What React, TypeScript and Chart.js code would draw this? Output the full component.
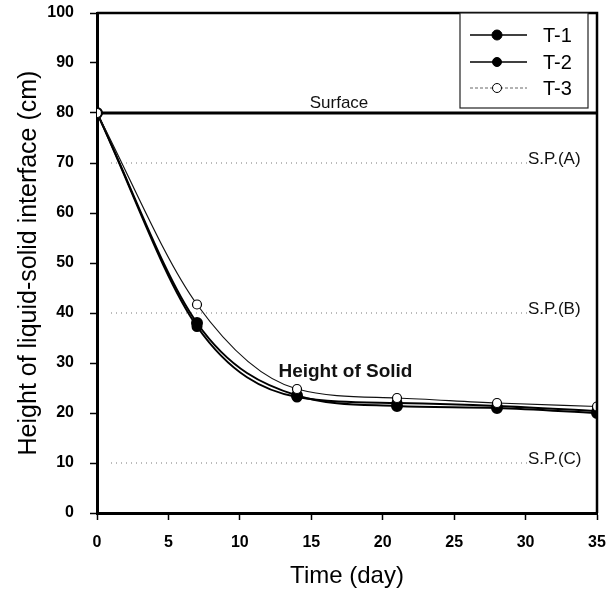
import React, { useEffect, useRef } from "react";
import { Chart, registerables } from "chart.js";

Chart.register(...registerables);

const days = [0, 7, 14, 21, 28, 35];
const t1 = [80, 38, 23.5, 21.4, 21, 20];
const t2 = [80, 37.3, 23.2, 22, 21.4, 20.4];
const t3 = [80, 41.7, 24.8, 23, 22, 21.3];
const seriesNames = ["T-1", "T-2", "T-3"];

const refLevels = [80, 70, 40, 10];
const refLabels = ["Surface", "S.P.(A)", "S.P.(B)", "S.P.(C)"];

const noteText = "Height of Solid";
const noteX = 12.7;
const noteY = 28.3;

const FONT = "'Liberation Sans', Arial, Helvetica, sans-serif";

const overlay = {
  id: "overlay",
  beforeDatasetsDraw(chart: any) {
    const { ctx, chartArea } = chart;
    const ys = chart.scales.y;
    ctx.save();
    refLevels.forEach((lv, i) => {
      const py = ys.getPixelForValue(lv);
      ctx.beginPath();
      if (i === 0) {
        ctx.strokeStyle = "#000";
        ctx.lineWidth = 3;
        ctx.setLineDash([]);
        ctx.moveTo(chartArea.left, py);
        ctx.lineTo(chartArea.right, py);
      } else {
        ctx.strokeStyle = "#777";
        ctx.lineWidth = 1;
        ctx.setLineDash([1, 4]);
        ctx.moveTo(chartArea.left + 14, py);
        ctx.lineTo(chartArea.right - 70, py);
      }
      ctx.stroke();
    });
    ctx.restore();
  },
  afterDatasetsDraw(chart: any) {
    const { ctx, chartArea } = chart;
    const ys = chart.scales.y;
    const xs = chart.scales.x;
    ctx.save();
    // frame top/right
    ctx.strokeStyle = "#000";
    ctx.lineWidth = 2.5;
    ctx.setLineDash([]);
    ctx.beginPath();
    ctx.moveTo(chartArea.left, chartArea.top);
    ctx.lineTo(chartArea.right, chartArea.top);
    ctx.lineTo(chartArea.right, chartArea.bottom);
    ctx.stroke();

    // ref labels
    ctx.fillStyle = "#111";
    ctx.font = `17px ${FONT}`;
    ctx.textBaseline = "middle";
    refLevels.forEach((lv, i) => {
      const py = ys.getPixelForValue(lv);
      if (i === 0) {
        ctx.textAlign = "center";
        ctx.fillText(refLabels[i], (chartArea.left + chartArea.right) / 2 - 8, py - 10);
      } else {
        ctx.textAlign = "left";
        ctx.fillText(refLabels[i], chartArea.right - 69, py - 4);
      }
    });

    // note
    ctx.font = `bold 19px ${FONT}`;
    ctx.textAlign = "left";
    ctx.fillText(noteText, xs.getPixelForValue(noteX), ys.getPixelForValue(noteY));

    // legend
    const bx = chartArea.right - 137;
    const by = chartArea.top;
    const bw = 128;
    const bh = 95;
    ctx.fillStyle = "#fff";
    ctx.fillRect(bx, by, bw, bh);
    ctx.strokeStyle = "#222";
    ctx.lineWidth = 1.2;
    ctx.strokeRect(bx, by, bw, bh);
    const rows = [by + 22, by + 49, by + 75];
    chart.data.datasets.forEach((ds: any, i: number) => {
      const y = rows[i];
      ctx.beginPath();
      ctx.strokeStyle = i === 2 ? "#666" : "#000";
      ctx.lineWidth = i === 2 ? 1 : 1.5;
      ctx.setLineDash(i === 2 ? [3, 2] : []);
      ctx.moveTo(bx + 10, y);
      ctx.lineTo(bx + 67, y);
      ctx.stroke();
      ctx.setLineDash([]);
      ctx.beginPath();
      ctx.arc(bx + 37, y, ds.pointRadius, 0, Math.PI * 2);
      ctx.fillStyle = ds.pointBackgroundColor;
      ctx.fill();
      ctx.lineWidth = 1;
      ctx.strokeStyle = "#000";
      ctx.stroke();
      ctx.fillStyle = "#000";
      ctx.font = `20px ${FONT}`;
      ctx.textAlign = "left";
      ctx.textBaseline = "middle";
      ctx.fillText(seriesNames[i], bx + 83, y + 1);
    });
    ctx.restore();
  },
};

export default function App() {
  const ref = useRef<HTMLCanvasElement>(null);
  useEffect(() => {
    document.body.style.margin = "0";
    const mk = (vals: number[]) => days.map((d, i) => ({ x: d, y: vals[i] }));
    const chart = new Chart(ref.current!, {
      type: "line",
      data: {
        datasets: [
          {
            label: seriesNames[0],
            data: mk(t1),
            borderColor: "#000",
            borderWidth: 2,
            pointRadius: 5,
            pointBackgroundColor: "#000",
            pointBorderColor: "#000",
            cubicInterpolationMode: "monotone",
            order: 2,
          },
          {
            label: seriesNames[1],
            data: mk(t2),
            borderColor: "#000",
            borderWidth: 2,
            pointRadius: 4.5,
            pointBackgroundColor: "#000",
            pointBorderColor: "#000",
            cubicInterpolationMode: "monotone",
            order: 1,
          },
          {
            label: seriesNames[2],
            data: mk(t3),
            borderColor: "#111",
            borderWidth: 1.2,
            pointRadius: 4.5,
            pointBackgroundColor: "#fff",
            pointBorderColor: "#000",
            pointBorderWidth: 1.2,
            cubicInterpolationMode: "monotone",
            order: 0,
          },
        ] as any,
      },
      options: {
        animation: false,
        responsive: false,
        layout: { padding: { left: 0, right: 16, top: 13, bottom: 0 } },
        plugins: { legend: { display: false }, tooltip: { enabled: false } },
        scales: {
          x: {
            type: "linear",
            min: 0,
            max: 35,
            afterFit: (s: any) => {
              s.height = 83;
              s.paddingLeft = 0;
              s.paddingRight = 0;
            },
            ticks: {
              stepSize: 5,
              color: "#000",
              font: { family: FONT, size: 16, weight: "bold" },
              padding: 13,
              maxRotation: 0,
            },
            grid: { drawOnChartArea: false, drawTicks: true, tickLength: 7, color: "#000", tickWidth: 1.5 },
            border: { color: "#000", width: 3 },
            title: {
              display: true,
              text: "Time (day)",
              color: "#000",
              font: { family: FONT, size: 24 },
              padding: { top: 0, bottom: 5 },
            },
          },
          y: {
            min: 0,
            max: 100,
            afterFit: (s: any) => {
              s.width = 97;
              s.paddingTop = 0;
              s.paddingBottom = 0;
            },
            ticks: {
              stepSize: 10,
              color: "#000",
              font: { family: FONT, size: 16, weight: "bold" },
              padding: 16,
            },
            grid: { drawOnChartArea: false, drawTicks: true, tickLength: 7, color: "#000", tickWidth: 1.5 },
            border: { color: "#000", width: 3 },
            title: {
              display: true,
              text: "Height of liquid-solid interface (cm)",
              color: "#000",
              font: { family: FONT, size: 25 },
              padding: { top: 14, bottom: 0 },
            },
          },
        },
      },
      plugins: [overlay],
    });
    return () => chart.destroy();
  }, []);
  return <canvas ref={ref} width={613} height={596} style={{ display: "block" }} />;
}
